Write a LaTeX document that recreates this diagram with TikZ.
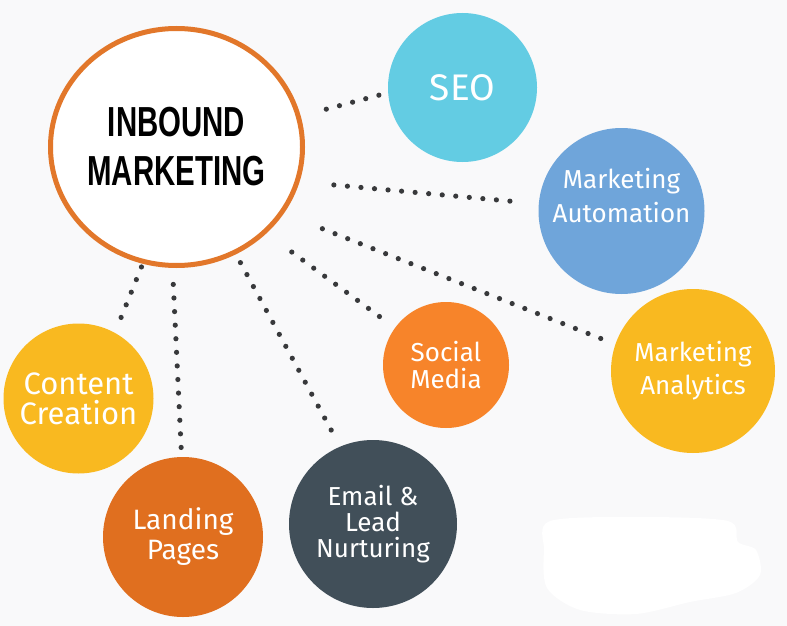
\documentclass[tikz,border=0pt]{standalone}
\usepackage{fontspec}
\setsansfont{Fira Sans}
\newfontfamily\headfont{Liberation Sans}[FakeStretch=0.7]
\usetikzlibrary{shapes.geometric}
\definecolor{paper}{HTML}{F9F9FA}
\definecolor{ring}{HTML}{E2772A}
\definecolor{seoblue}{HTML}{63CCE3}
\definecolor{autoblue}{HTML}{6FA5DA}
\definecolor{amber}{HTML}{F9B920}
\definecolor{social}{HTML}{F7842A}
\definecolor{slate}{HTML}{414F59}
\definecolor{landing}{HTML}{E06F1F}
\definecolor{dotgray}{HTML}{38393B}

\begin{document}
\begin{tikzpicture}[x=1pt,y=-1pt,
 hub/.style={ellipse,draw=ring,line width=5pt,fill=white,minimum width=252pt,minimum height=237pt,
  inner sep=0pt,outer sep=0pt,align=center,font=\headfont\bfseries\fontsize{42}{49}\selectfont},
 bubble/.style={circle,inner sep=0pt,outer sep=0pt,minimum size=#1,text=white,align=center},
 lbl/.style={text=white,align=center,inner sep=0pt},
 dots/.style={draw=dotgray,line width=5.2pt,line cap=round,dash pattern=on 0pt off 13.6pt}]
\useasboundingbox (0,0) rectangle (787,626);
\fill[paper] (0,0) rectangle (787,626);
% patch in the lower right corner
\fill[white] plot[smooth cycle] coordinates {(550,521) (640,517) (728,521) (738,542) (756,550)
 (760,575) (736,593) (690,602) (636,614) (580,610) (547,588) (544,550)};
\node[hub] (inbound) at (176.5,147) {INBOUND\\MARKETING};
\node[bubble=149pt,fill=seoblue,font=\sffamily\fontsize{37}{40}\selectfont] (seo) at (462.5,87.5) {SEO};
\node[bubble=166pt,fill=autoblue] (automation) at (621.5,211) {};
\node[lbl,font=\sffamily\fontsize{26}{34}\selectfont] (automation text) at ([yshift=15pt]automation)
 {Marketing\\Automation};
\node[bubble=164pt,fill=amber,font=\sffamily\fontsize{26}{33}\selectfont] (analytics) at (693,371)
 {Marketing\\Analytics};
\node[bubble=126pt,fill=social,font=\sffamily\fontsize{26}{27}\selectfont] (media) at (446,365)
 {Social\\Media};
\node[bubble=168pt,fill=slate,font=\sffamily\fontsize{26}{26}\selectfont] (email) at (373,524)
 {Email \&\\Lead\\Nurturing};
\node[bubble=160pt,fill=landing,font=\sffamily\fontsize{28}{30}\selectfont] (pages) at (183,537)
 {Landing\\Pages};
\node[bubble=150pt,fill=amber,font=\sffamily\fontsize{31}{30}\selectfont] (content) at (78.5,398.5)
 {Content\\Creation};
% dotted spokes: target / hub angle / target angle / gaps
\foreach \target/\from/\to/\gapa/\gapb in {seo/14.6/184.5/29pt/8pt,automation/-16.1/175.8/37pt/26pt,
 analytics/-32.5/161.2/44pt/8pt,media/-44.6/144.9/34pt/15pt,email/-61.7/113.1/12pt/13pt,
 pages/-92.7/91.4/19pt/4pt,content/-106.9/61.3/6pt/16pt}
 \draw[dots,shorten <=\gapa,shorten >=\gapb] (inbound.\from) -- (\target.\to);
\end{tikzpicture}
\end{document}
